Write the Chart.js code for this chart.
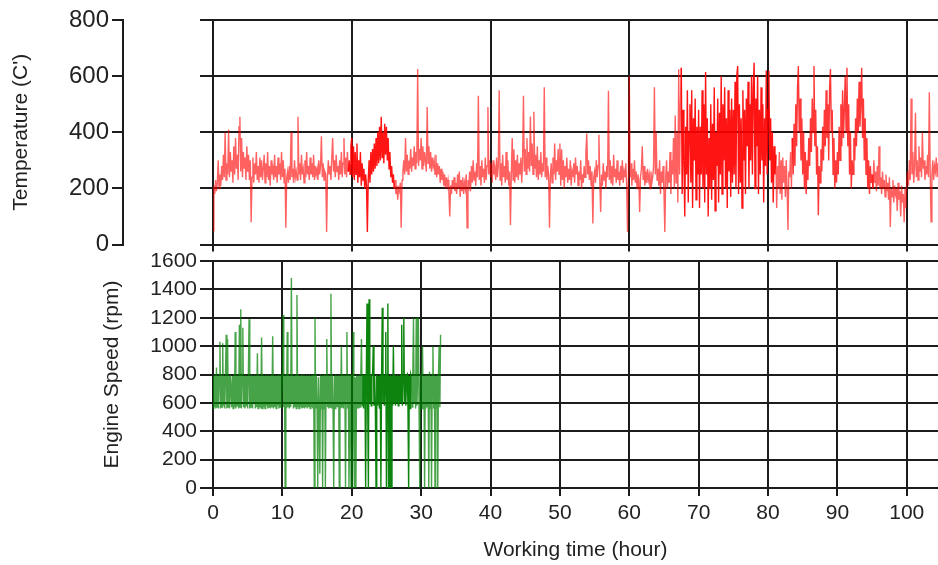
<!DOCTYPE html>
<html>
<head>
<meta charset="utf-8">
<script src="https://cdn.jsdelivr.net/npm/chart.js@4.4.1/dist/chart.umd.min.js"></script>
<style>
  body { margin: 0; background: #fff; }
  #wrap { position: relative; width: 938px; height: 565px; }
  canvas { position: absolute; left: 0; }
  #tempChart { top: 0; }
  #rpmChart { top: 240px; }
</style>
</head>
<body>
<div id="wrap">
  <canvas id="tempChart" width="938" height="262"></canvas>
  <canvas id="rpmChart" width="938" height="325"></canvas>
</div>
<script>
// sampling step of each log, in hours
const tempStep = 0.125;
const rpmStep = 0.1;

// exhaust temperature, one row = 2.5 hours
const temperature = [
  50, 210, 180, 230, 190, 220, 300, 200, 250, 210, 280, 230, 320, 240, 400, 230, 290, 250, 410, 240,
  330, 260, 300, 220, 350, 250, 380, 270, 320, 230, 420, 455, 260, 380, 240, 330, 270, 310, 230, 350,
  260, 320, 230, 300, 80, 240, 310, 220, 290, 250, 330, 230, 280, 220, 310, 240, 300, 230, 270, 320,
  220, 290, 240, 330, 230, 280, 210, 300, 250, 270, 230, 320, 240, 280, 220, 310, 250, 290, 230, 330,
  240, 300, 220, 270, 60, 240, 260, 220, 280, 230, 400, 240, 270, 220, 300, 240, 260, 230, 455, 250,
  290, 230, 320, 250, 270, 220, 300, 240, 330, 250, 280, 230, 310, 250, 290, 240, 320, 230, 280, 250,
  270, 230, 300, 250, 280, 386, 240, 290, 230, 260, 250, 45, 240, 300, 250, 280, 230, 310, 380, 260,
  300, 240, 320, 260, 280, 230, 300, 250, 330, 240, 290, 380, 250, 310, 240, 330, 260, 300, 250, 350,
  380, 240, 350, 230, 330, 250, 360, 220, 300, 240, 330, 210, 290, 230, 270, 200, 250, 210, 45, 230,
  300, 220, 330, 250, 340, 260, 360, 270, 380, 280, 400, 290, 420, 300, 455, 310, 400, 290, 430, 320,
  420, 300, 380, 270, 330, 240, 280, 220, 250, 200, 230, 180, 210, 160, 200, 190, 220, 60, 230, 260,
  300, 250, 380, 260, 320, 250, 300, 270, 340, 260, 310, 280, 350, 270, 330, 290, 625, 280, 340, 300,
  380, 270, 350, 280, 330, 300, 260, 490, 290, 350, 270, 330, 260, 310, 280, 300, 250, 320, 240, 290,
  250, 280, 220, 270, 230, 260, 210, 250, 200, 240, 210, 230, 190, 100, 210, 180, 230, 200, 240, 190,
  220, 180, 250, 200, 260, 170, 230, 190, 240, 180, 220, 200, 250, 60, 230, 210, 260, 190, 280, 220,
  300, 230, 260, 210, 290, 240, 530, 230, 280, 210, 300, 240, 270, 220, 310, 230, 280, 490, 250, 300,
  240, 290, 220, 300, 250, 270, 230, 310, 240, 280, 550, 230, 290, 210, 320, 240, 280, 220, 330, 230,
  300, 210, 260, 70, 250, 380, 230, 340, 220, 300, 240, 320, 230, 290, 250, 310, 220, 300, 530, 260,
  340, 250, 380, 270, 330, 260, 456, 280, 360, 250, 473, 270, 320, 240, 350, 230, 300, 250, 330, 240,
  290, 260, 560, 240, 310, 230, 280, 250, 60, 240, 290, 220, 310, 250, 360, 230, 300, 260, 340, 250,
  360, 210, 340, 230, 300, 200, 280, 240, 310, 220, 270, 230, 300, 210, 260, 240, 290, 220, 310, 250,
  280, 210, 260, 230, 300, 200, 250, 220, 280, 240, 330, 396, 250, 300, 230, 280, 210, 260, 75, 240,
  260, 220, 300, 240, 280, 391, 230, 116, 250, 210, 290, 230, 260, 200, 280, 240, 548, 230, 300, 220,
  280, 210, 320, 240, 270, 220, 300, 230, 260, 210, 280, 230, 300, 220, 260, 240, 290, 210, 45, 230,
  600, 240, 290, 210, 270, 230, 300, 220, 260, 200, 250, 230, 116, 240, 270, 350, 230, 280, 210, 260,
  220, 270, 230, 250, 200, 260, 220, 240, 280, 560, 250, 400, 230, 270, 210, 300, 180, 260, 220, 280,
  190, 45, 240, 300, 200, 260, 220, 330, 180, 300, 250, 380, 200, 460, 220, 400, 150, 625, 250, 500,
  630, 180, 480, 300, 100, 420, 250, 550, 150, 400, 500, 220, 550, 130, 450, 300, 520, 160, 420, 250,
  480, 130, 420, 250, 550, 200, 500, 150, 615, 250, 450, 100, 380, 200, 500, 160, 430, 230, 560, 120,
  400, 280, 520, 150, 470, 250, 600, 180, 500, 300, 560, 200, 450, 130, 550, 260, 480, 170, 520, 220,
  480, 250, 580, 200, 600, 636, 180, 500, 220, 450, 130, 550, 300, 480, 180, 520, 350, 580, 200, 500,
  300, 600, 250, 560, 648, 200, 520, 350, 600, 180, 480, 250, 560, 300, 500, 150, 450, 280, 620, 250,
  480, 619, 300, 450, 220, 400, 150, 350, 250, 320, 130, 280, 200, 330, 180, 300, 160, 310, 220, 280,
  170, 300, 200, 52, 260, 240, 330, 200, 380, 250, 430, 280, 500, 350, 560, 636, 400, 520, 300, 450,
  250, 400, 200, 330, 180, 300, 230, 380, 280, 450, 330, 520, 400, 636, 350, 480, 250, 350, 105, 280,
  220, 340, 260, 420, 300, 480, 350, 550, 380, 500, 300, 560, 625, 400, 480, 250, 380, 200, 300, 220,
  330, 250, 420, 300, 500, 350, 550, 380, 480, 600, 400, 630, 350, 500, 250, 400, 200, 300, 250, 380,
  300, 450, 350, 520, 400, 580, 420, 500, 630, 380, 520, 300, 450, 250, 380, 200, 300, 180, 280, 220,
  250, 200, 300, 220, 260, 190, 280, 210, 350, 200, 240, 180, 260, 200, 230, 170, 250, 190, 220, 160,
  240, 63, 200, 170, 230, 150, 210, 180, 200, 120, 220, 160, 190, 100, 210, 150, 180, 80, 200, 130,
  230, 260, 210, 300, 230, 520, 250, 330, 220, 280, 470, 240, 300, 230, 350, 260, 310, 240, 400, 270,
  300, 230, 280, 250, 320, 240, 543, 260, 81, 250, 300, 230, 280, 260, 310, 240, 290, 250, 280, 260
];

// engine speed, one row = 1 hour
const engineSpeed = [
  560, 790, 570, 800, 560, 850, 570, 790, 560, 800,
  1030, 560, 800, 570, 1020, 580, 790, 560, 800, 1080,
  560, 1050, 570, 790, 560, 800, 700, 570, 790, 560,
  800, 570, 1100, 560, 790, 580, 800, 560, 1150, 570,
  1260, 560, 800, 1130, 570, 790, 560, 800, 580, 790,
  560, 800, 1190, 560, 790, 570, 800, 560, 790, 600,
  800, 560, 790, 570, 950, 560, 800, 570, 790, 560,
  1060, 560, 800, 570, 790, 560, 800, 580, 790, 560,
  800, 570, 790, 560, 800, 570, 1070, 560, 790, 570,
  800, 560, 790, 580, 800, 560, 790, 570, 800, 560,
  800, 1220, 570, 790, 0, 800, 560, 1100, 570, 800,
  560, 790, 570, 1480, 600, 800, 560, 790, 570, 800,
  560, 1360, 570, 800, 560, 790, 570, 800, 560, 790,
  570, 800, 560, 790, 570, 800, 560, 790, 570, 800,
  560, 790, 570, 800, 560, 800, 0, 1200, 560, 800,
  570, 0, 780, 560, 100, 800, 560, 790, 0, 800,
  560, 800, 0, 790, 1050, 570, 800, 560, 790, 570,
  1370, 560, 800, 570, 0, 790, 560, 800, 570, 790,
  570, 800, 0, 790, 560, 1000, 570, 800, 560, 790,
  800, 0, 790, 1100, 560, 800, 0, 570, 800, 0,
  800, 0, 1100, 560, 0, 780, 0, 800, 560, 790,
  560, 800, 570, 790, 1050, 580, 800, 560, 790, 800,
  0, 790, 1300, 570, 0, 1330, 600, 800, 580, 790,
  800, 1000, 580, 790, 600, 0, 800, 580, 790, 600,
  560, 800, 0, 790, 1270, 600, 800, 580, 790, 1100,
  0, 800, 1300, 0, 790, 0, 800, 0, 790, 580,
  1000, 600, 800, 580, 790, 600, 800, 580, 790, 600,
  800, 600, 1150, 580, 790, 1200, 600, 800, 580, 790,
  800, 580, 0, 790, 560, 800, 780, 570, 800, 1200,
  600, 800, 560, 1200, 580, 800, 1200, 560, 0, 800,
  560, 800, 1000, 560, 790, 0, 800, 560, 790, 570,
  800, 0, 820, 560, 790, 0, 800, 1000, 560, 800,
  0, 790, 560, 800, 0, 800, 1000, 570, 1080
];

const tempTicks = [0, 200, 400, 600, 800];
const rpmTicks = [0, 200, 400, 600, 800, 1000, 1200, 1400, 1600];
const hourTicksTop = [0, 20, 40, 60, 80, 100];
const hourTicksBottom = [0, 10, 20, 30, 40, 50, 60, 70, 80, 90, 100];

// stretches where the logger wrote denser, so the trace looks darker
const tempDense = [[19.5, 26], [67.5, 81]];
const tempMid = [[83.5, 95]];
const rpmDense = [[21.5, 28.5]];

const hourMax = 104.5;
const gridColor = '#1c1c1c';
const textColor = '#222';
const fontFamily = "'Liberation Sans', Arial, sans-serif";

function inRange(x, ranges) {
  return ranges.some(r => x >= r[0] && x <= r[1]);
}
function fixedTicks(list) {
  return function (scale) {
    scale.ticks = list.map(v => ({ value: v }));
  };
}
const plainLabel = v => String(v);

function tempColor(c) {
  const x = c.p0.parsed.x;
  if (inRange(x, tempDense)) return 'rgba(255, 0, 0, 0.92)';
  if (inRange(x, tempMid)) return 'rgba(255, 0, 0, 0.78)';
  return 'rgba(255, 0, 0, 0.62)';
}

const tempPoints = temperature.map((v, i) => ({ x: i * tempStep, y: v }));
const rpmPoints = engineSpeed.map((v, i) => ({ x: i * rpmStep, y: v }));

var tempChart = new Chart(document.getElementById('tempChart'), {
  type: 'line',
  data: {
    datasets: [{
      label: 'Temperature',
      data: tempPoints,
      borderWidth: 1.4,
      pointRadius: 0,
      borderColor: 'rgba(255, 0, 0, 0.6)',
      segment: { borderColor: tempColor }
    }]
  },
  options: {
    responsive: false,
    animation: false,
    layout: { padding: { top: 20, right: 0, bottom: 0, left: 0 } },
    plugins: { legend: { display: false }, tooltip: { enabled: false } },
    scales: {
      x: {
        type: 'linear',
        min: 0,
        max: hourMax,
        afterBuildTicks: fixedTicks(hourTicksTop),
        ticks: { display: false },
        grid: { color: gridColor, lineWidth: 2, tickLength: 7 },
        border: { display: false },
        afterFit: s => { s.height = 14; }
      },
      y: {
        min: 0,
        max: 800,
        weight: 0,
        afterBuildTicks: fixedTicks(tempTicks),
        ticks: { display: false },
        grid: { color: gridColor, lineWidth: 2, tickLength: 13 },
        border: { display: false },
        afterFit: s => { s.width = 90; }
      },
      yOut: {
        position: 'left',
        weight: 1,
        min: 0,
        max: 800,
        afterBuildTicks: fixedTicks(tempTicks),
        ticks: { font: { family: fontFamily, size: 24 }, color: textColor, padding: 3, callback: plainLabel },
        grid: { drawOnChartArea: false, color: gridColor, lineWidth: 2, tickLength: 11 },
        border: { display: true, color: gridColor, width: 2 },
        title: {
          display: true,
          text: "Temperature (C')",
          font: { family: fontFamily, size: 21 },
          color: textColor,
          padding: { top: 9, bottom: 0 }
        },
        afterFit: s => { s.width = 123; }
      }
    }
  }
});

var rpmChart = new Chart(document.getElementById('rpmChart'), {
  type: 'line',
  data: {
    datasets: [{
      label: 'Engine Speed',
      data: rpmPoints,
      borderWidth: 1.4,
      pointRadius: 0,
      borderColor: 'rgba(0, 128, 0, 0.7)',
      segment: {
        borderColor: c => inRange(c.p0.parsed.x, rpmDense) ? 'rgba(0, 125, 0, 0.95)' : 'rgba(0, 128, 0, 0.72)'
      }
    }]
  },
  options: {
    responsive: false,
    animation: false,
    layout: { padding: { top: 21, right: 0, bottom: 0, left: 0 } },
    plugins: { legend: { display: false }, tooltip: { enabled: false } },
    scales: {
      x: {
        type: 'linear',
        min: 0,
        max: hourMax,
        afterBuildTicks: fixedTicks(hourTicksBottom),
        ticks: { font: { family: fontFamily, size: 21 }, color: textColor, padding: 5, autoSkip: false, maxRotation: 0, callback: plainLabel },
        grid: { color: gridColor, lineWidth: 2, tickLength: 8 },
        border: { display: false },
        title: {
          display: true,
          text: 'Working time (hour)',
          font: { family: fontFamily, size: 21 },
          color: textColor,
          padding: { top: 0, bottom: 2 }
        },
        afterFit: s => { s.height = 77; }
      },
      y: {
        min: 0,
        max: 1600,
        afterBuildTicks: fixedTicks(rpmTicks),
        ticks: { font: { family: fontFamily, size: 21 }, color: textColor, padding: 3, callback: plainLabel },
        grid: { color: gridColor, lineWidth: 2, tickLength: 13 },
        border: { display: false },
        title: {
          display: true,
          text: 'Engine Speed (rpm)',
          font: { family: fontFamily, size: 21 },
          color: textColor,
          padding: { top: 100, bottom: 0 }
        },
        afterFit: s => { s.width = 213; }
      }
    }
  }
});
</script>
</body>
</html>
